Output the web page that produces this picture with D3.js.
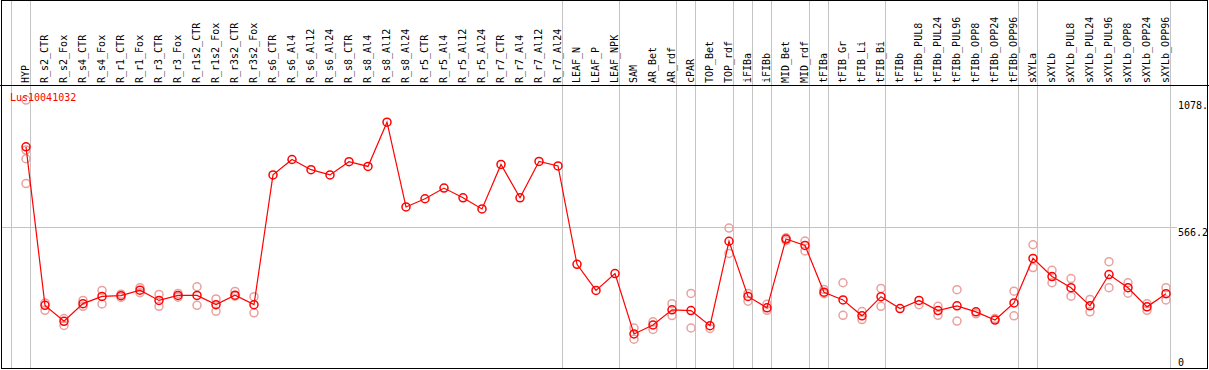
<!DOCTYPE html>
<html>
<head>
<meta charset="utf-8">
<script src="https://cdn.jsdelivr.net/npm/d3@7"></script>
<style>
    body { margin: 0; background: #fff; }
    svg { display: block; font-family: "DejaVu Sans Mono", monospace; font-size: 10px; }
</style>
</head>
<body>
<div id="chart"></div>
<script>
const [WIDTH, HEIGHT] = [1209, 370]

const samples = [
    'HYP', 'R_s2_CTR', 'R_s2_Fox', 'R_s4_CTR', 'R_s4_Fox', 'R_r1_CTR', 'R_r1_Fox', 'R_r3_CTR', 'R_r3_Fox',
    'R_r1s2_CTR', 'R_r1s2_Fox', 'R_r3s2_CTR', 'R_r3s2_Fox',
    'R_s6_CTR', 'R_s6_Al4', 'R_s6_Al12', 'R_s6_Al24', 'R_s8_CTR', 'R_s8_Al4', 'R_s8_Al12', 'R_s8_Al24',
    'R_r5_CTR', 'R_r5_Al4', 'R_r5_Al12', 'R_r5_Al24', 'R_r7_CTR', 'R_r7_Al4', 'R_r7_Al12', 'R_r7_Al24',
    'LEAF_N', 'LEAF_P', 'LEAF_NPK', 'SAM', 'AR_Bet', 'AR_rdf', 'cPAR', 'TOP_Bet', 'TOP_rdf',
    'iFIBa', 'iFIBb', 'MID_Bet', 'MID_rdf', 'tFIBa', 'tFIB_Gr', 'tFIB_Li', 'tFIB_Bi',
    'tFIBb', 'tFIBb_PUL8', 'tFIBb_PUL24', 'tFIBb_PUL96', 'tFIBb_OPP8', 'tFIBb_OPP24', 'tFIBb_OPP96',
    'sXYLa', 'sXYLb', 'sXYLb_PUL8', 'sXYLb_PUL24', 'sXYLb_PUL96', 'sXYLb_OPP8', 'sXYLb_OPP24', 'sXYLb_OPP96',
]

// mean expression per sample
const means = [
    890, 252, 188, 259, 288, 291, 313, 272, 292, 292, 255, 293, 255,
    777, 839, 798, 777, 830, 811, 989, 648, 681, 724, 685, 640, 819, 685, 831, 813,
    417, 312, 380, 137, 173, 234, 231, 170, 510,
    288, 242, 519, 493, 305, 274, 210, 287,
    239, 272, 231, 250, 226, 193, 262,
    441, 368, 323, 250, 376, 323, 246, 299,
]

// individual replicates (drawn faint)
const replicates = [
    [1078, 877, 842, 742], [262, 232], [199, 171], [272, 248], [312, 258], [297, 284], [323, 303],
    [296, 248], [300, 285], [327, 252], [278, 228], [308, 289], [287, 222],
    [], [], [], [], [], [], [], [], [], [], [], [], [], [], [], [],
    [], [], [], [161, 116], [186, 155], [259, 211], [300, 161], [159], [563, 461],
    [300, 269], [257, 232], [524, 512], [511, 471], [316, 299], [343, 212], [227, 195], [320, 248],
    [], [255], [248, 212], [315, 189], [218], [199], [309, 210],
    [496, 404], [393, 343], [360, 289], [276, 226], [428, 323], [343, 301], [259, 232], [323, 274],
]

// index of first sample in each group (vertical separators)
const groupStarts = [0, 1, 29, 32, 35, 36, 38, 39, 40, 42, 43, 46, 53, 54, 61]

const yTickValues = [0, 566.2, 1078.4]
const yTickLabels = ['0', '566.2', '1078.']
const geneName = 'Lus10041032'

const svg = d3.select('#chart').append('svg')
    .attr('width', WIDTH)
    .attr('height', HEIGHT)

// columns are 19px wide, first starts at x=11
const xScale = d3.scaleBand(d3.range(samples.length + 1), [11, 11 + 19 * (samples.length + 1)])
const colLeft = i => xScale(i)
const colPoint = i => xScale(i) + 15

const yScale = d3.scaleLinear([0, 1078.4], [368, 100])

// vertical group separators
svg.append('g')
    .selectAll('line')
    .data(groupStarts)
    .join('line')
    .attr('x1', i => colLeft(i) + 0.5)
    .attr('x2', i => colLeft(i) + 0.5)
    .attr('y1', 0)
    .attr('y2', 369)
    .attr('stroke', '#c4c4c4')

// horizontal grid line at mid tick
svg.append('line')
    .attr('x1', 1).attr('x2', 1177)
    .attr('y1', Math.round(yScale(566.2)) + 0.5)
    .attr('y2', Math.round(yScale(566.2)) + 0.5)
    .attr('stroke', '#c4c4c4')

// frame and header separator
svg.append('rect')
    .attr('x', 1.5).attr('y', 0.5)
    .attr('width', 1206).attr('height', 368)
    .attr('fill', 'none')
    .attr('stroke', '#000')
svg.append('line')
    .attr('x1', 0).attr('x2', WIDTH)
    .attr('y1', 85.5).attr('y2', 85.5)
    .attr('stroke', '#000')

// rotated sample labels
svg.append('g')
    .selectAll('text')
    .data(samples)
    .join('text')
    .attr('transform', (d, i) => `translate(${colLeft(i) + 18},83) rotate(-90)`)
    .attr('fill', '#000')
    .text(d => d)

// y axis labels on right
const yLabels = svg.append('g')
yTickValues.forEach((v, k) => {
    let y = yScale(v) + 9
    if (v === 0) y = 366
    yLabels.append('text')
        .attr('x', 1178)
        .attr('y', y)
        .attr('fill', '#000')
        .text(yTickLabels[k])
})

// replicates
const reps = []
replicates.forEach((arr, i) => arr.forEach(v => reps.push({ i, v })))
svg.append('g')
    .selectAll('circle')
    .data(reps)
    .join('circle')
    .attr('cx', d => colPoint(d.i))
    .attr('cy', d => yScale(d.v))
    .attr('r', 4)
    .attr('fill', 'none')
    .attr('stroke', '#eaa0a0')
    .attr('stroke-width', 1.5)

// mean line
const line = d3.line()
    .x((d, i) => colPoint(i))
    .y(d => yScale(d))
svg.append('path')
    .datum(means)
    .attr('d', line)
    .attr('fill', 'none')
    .attr('stroke', '#ff0000')
    .attr('stroke-width', 1.2)

svg.append('g')
    .selectAll('circle')
    .data(means)
    .join('circle')
    .attr('cx', (d, i) => colPoint(i))
    .attr('cy', d => yScale(d))
    .attr('r', 4)
    .attr('fill', 'none')
    .attr('stroke', '#ff0000')
    .attr('stroke-width', 1.5)

// gene name
svg.append('text')
    .attr('x', 10)
    .attr('y', 101)
    .attr('fill', '#ff0000')
    .text(geneName)
</script>
</body>
</html>
